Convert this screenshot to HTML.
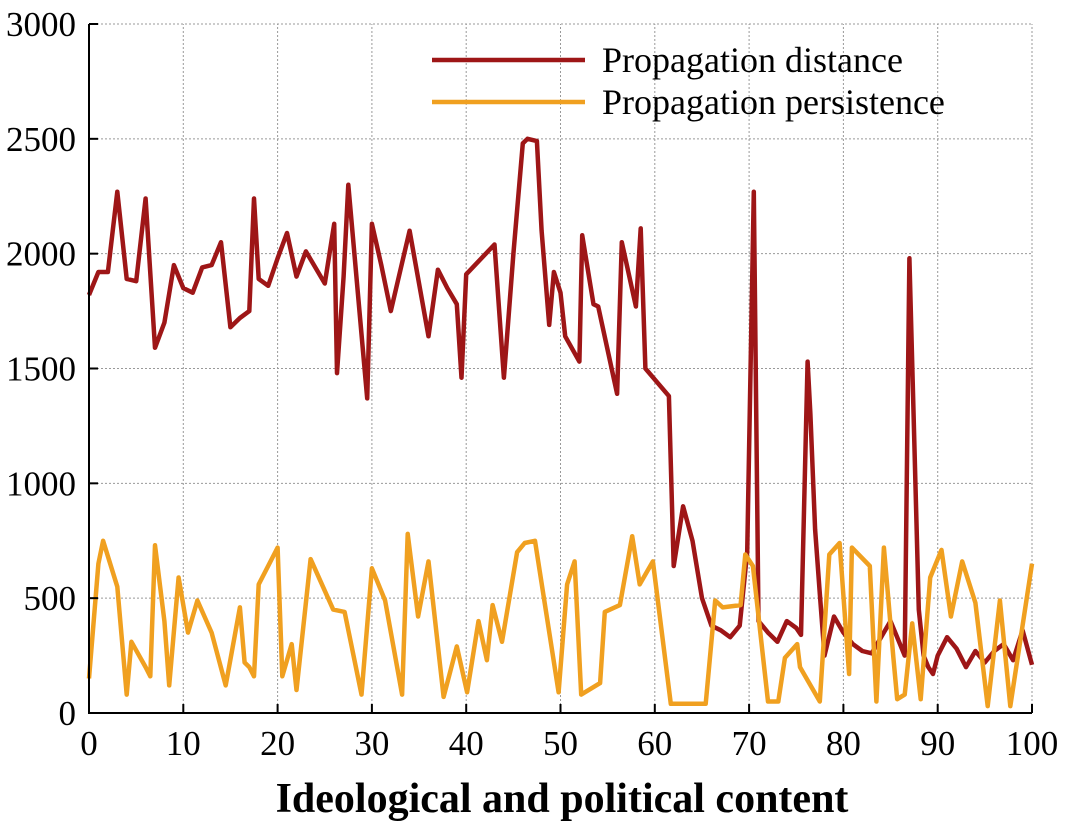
<!DOCTYPE html>
<html><head><meta charset="utf-8"><style>
body{margin:0;background:#fff}
svg text{font-family:"Liberation Serif",serif}
</style></head><body>
<svg id="c" width="1065" height="824" xmlns="http://www.w3.org/2000/svg"></svg>
<script>
const distX=[0,1,2,3,4,5,6,7,8,9,10,11,12,13,14,15,16,17,17.5,18,19,20,21,22,23,24,25,26,26.3,27,27.5,29,29.5,30,31,32,34,36,37,38,39,39.5,40,43,44,45,46,46.5,47.5,48,48.8,49.3,50,50.5,52,52.3,53.5,54,56,56.5,58,58.5,59,61.5,62,63,64,65,66,67,68,69,69.8,70.5,71,72,73,74,75,75.5,76.2,76.5,77,77.5,78,79,80,81,82,83,84,85,86,86.5,87,88,88.5,89,89.5,90,91,92,93,94,95,96,97,98,99,100];
const distY=[1820,1920,1920,2270,1890,1880,2240,1590,1700,1950,1850,1830,1940,1950,2050,1680,1720,1750,2240,1890,1860,1980,2090,1900,2010,1940,1870,2130,1480,1900,2300,1600,1370,2130,1950,1750,2100,1640,1930,1850,1780,1460,1910,2040,1460,2000,2480,2500,2490,2100,1690,1920,1830,1640,1530,2080,1780,1770,1390,2050,1770,2110,1500,1380,640,900,750,500,380,360,330,380,700,2270,400,350,310,400,370,340,1530,1300,800,520,250,420,350,300,270,260,330,400,300,250,1980,450,250,200,170,250,330,280,200,270,220,270,300,230,360,210];
const persX=[0,1,1.5,3,4,4.5,6,6.5,7,8,8.5,9.5,10.5,11.5,13,14.5,16,16.5,17,17.5,18,20,20.5,21.5,22,23.5,25.9,27.1,28.9,30,31.4,33.2,33.8,34.9,36,37.6,39,40.1,41.3,42.2,42.8,43.8,45.4,46.2,47.3,49.8,50.7,51.5,52.2,54.2,54.7,56.3,57.6,58.4,59.8,61.7,65.4,66.4,67.2,69.1,69.6,70.4,72,73.1,73.8,75.1,75.4,77.5,78.5,79.6,80.6,80.9,82.8,83.5,84.3,85.3,85.7,86.5,87.3,88.2,89.2,90.4,91.4,92.6,94,95.3,96.6,97.7,100];
const persY=[150,650,750,550,80,310,200,160,730,400,120,590,350,490,350,120,460,220,200,160,560,720,160,300,100,670,450,440,80,630,490,80,780,420,660,70,290,90,400,230,470,310,700,740,750,90,560,660,80,130,440,470,770,560,660,40,40,490,460,470,690,640,50,50,240,300,200,50,690,740,170,720,640,50,720,240,60,80,390,60,590,710,420,660,480,30,490,30,650];
const xTicks=[0,10,20,30,40,50,60,70,80,90,100];
const yTicks=[0,500,1000,1500,2000,2500,3000];
const NS="http://www.w3.org/2000/svg",svg=document.getElementById('c');
const X0=89,X1=1032,Y0=713,Y1=24;
const sx=v=>X0+(v-0)/100*(X1-X0), sy=v=>Y0-v/3000*(Y0-Y1);
function mk(t,a,p){const e=document.createElementNS(NS,t);for(const k in a)e.setAttribute(k,a[k]);(p||svg).appendChild(e);return e;}
const g=mk('g',{});


xTicks.forEach(v=>{if(v>0){mk('line',{x1:sx(v),x2:sx(v),y1:Y0,y2:Y1,stroke:'#999','stroke-dasharray':'2,2','stroke-width':1},g);}});
yTicks.forEach(v=>{if(v>0){mk('line',{x1:X0,x2:X1,y1:sy(v),y2:sy(v),stroke:'#999','stroke-dasharray':'2,2','stroke-width':1},g);}});
function series(xs,ys,col,name){const d=xs.map((x,i)=>(i?'L':'M')+sx(x).toFixed(1)+','+sy(ys[i]).toFixed(1)).join('');
const p=mk('path',{d:d,fill:'none',stroke:col,'stroke-width':4.5,'stroke-linejoin':'round'});

}
series(distX,distY,'#9e1617','distance-line');
series(persX,persY,'#f0a020','persistence-line');
const ax=mk('path',{d:`M${X0},${Y1}L${X0},${Y0}L${X1},${Y0}`,fill:'none',stroke:'#000','stroke-width':2});


xTicks.forEach(v=>{mk('line',{x1:sx(v),x2:sx(v),y1:Y0,y2:Y0-9,stroke:'#000','stroke-width':2});
const t=mk('text',{x:sx(v),y:755,'text-anchor':'middle','font-size':35});t.textContent=v;

});
yTicks.forEach(v=>{mk('line',{x1:X0,x2:X0+9,y1:sy(v),y2:sy(v),stroke:'#000','stroke-width':2});
const t=mk('text',{x:76,y:sy(v)+12,'text-anchor':'end','font-size':35});t.textContent=v;

});
const xt=mk('text',{x:562,y:812,'text-anchor':'middle','font-size':42,'font-weight':'bold'});xt.textContent='Ideological and political content';


[['Propagation distance','#9e1617',60],['Propagation persistence','#f0a020',102]].forEach(([n,c,y])=>{
const lg=mk('g',{});


mk('line',{x1:432,x2:585,y1:y,y2:y,stroke:c,'stroke-width':4.5},lg);
const t=mk('text',{x:602,y:y+12,'font-size':36},lg);t.textContent=n;});
</script>
</body></html>
